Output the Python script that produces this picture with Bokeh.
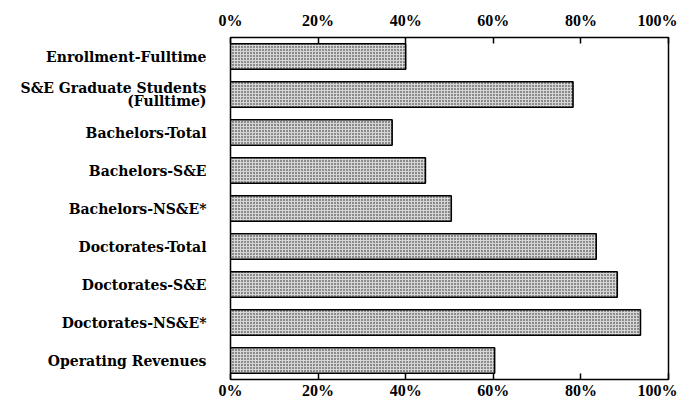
from bokeh.plotting import figure
from bokeh.models import FactorRange, Range1d, LinearAxis, FixedTicker, CustomJSTickFormatter
from bokeh.embed import file_html
from bokeh.resources import INLINE

categories = [
    "Enrollment-Fulltime",
    "S&E Graduate Students\n(Fulltime)",
    "Bachelors-Total",
    "Bachelors-S&E",
    "Bachelors-NS&E*",
    "Doctorates-Total",
    "Doctorates-S&E",
    "Doctorates-NS&E*",
    "Operating Revenues",
]
values = [40.0, 78.2, 36.9, 44.5, 50.4, 83.5, 88.3, 93.6, 60.3]
tick_values = [0, 20, 40, 60, 80, 100]
tick_labels = ["0%", "20%", "40%", "60%", "80%", "100%"]

W, H = 677, 401
p = figure(
    width=W, height=H,
    y_range=FactorRange(factors=list(reversed(categories)), range_padding=0),
    x_range=Range1d(0, 100),
    output_backend="svg", toolbar_location=None,
    x_axis_location=None,
    min_border_left=230, min_border_right=9, min_border_top=37, min_border_bottom=20,
)
p.hbar(y=categories, right=values, left=0, height=0.67,
       fill_color="#d6d6d6", line_color="black", line_width=1.6,
       hatch_pattern="dot", hatch_scale=3, hatch_weight=1.4, hatch_color="#1a1a1a")

p.xgrid.visible = False
p.ygrid.visible = False
p.outline_line_color = "black"
p.outline_line_width = 1.5
p.outline_line_alpha = 1

fmt_code = "const labs = %s; const vals = %s; const i = vals.indexOf(tick); return i >= 0 ? labs[i] : '';" % (
    str(tick_labels).replace("'", '"'), str(tick_values))
for loc in ("above", "below"):
    ax = LinearAxis(
        ticker=FixedTicker(ticks=tick_values),
        formatter=CustomJSTickFormatter(code=fmt_code),
        major_tick_in=6, major_tick_out=0, minor_tick_in=0, minor_tick_out=0,
        major_tick_line_width=1.5,
        axis_line_color=None,
        major_label_text_font="Liberation Serif",
        major_label_text_font_style="bold",
        major_label_text_font_size="16px",
        major_label_text_color="black",
        major_label_standoff=2 if loc == "below" else 9,
    )
    p.add_layout(ax, loc)

yax = p.yaxis[0]
yax.axis_line_color = "black"
yax.major_tick_line_color = None
yax.minor_tick_line_color = None
yax.major_label_standoff = 18
yax.major_label_text_font = "DejaVu Serif"
yax.major_label_text_font_style = "bold"
yax.major_label_text_font_size = "14px"
yax.major_label_text_color = "black"
yax.major_label_text_line_height = 0.85

open("out.html", "w").write(file_html(p, INLINE))
